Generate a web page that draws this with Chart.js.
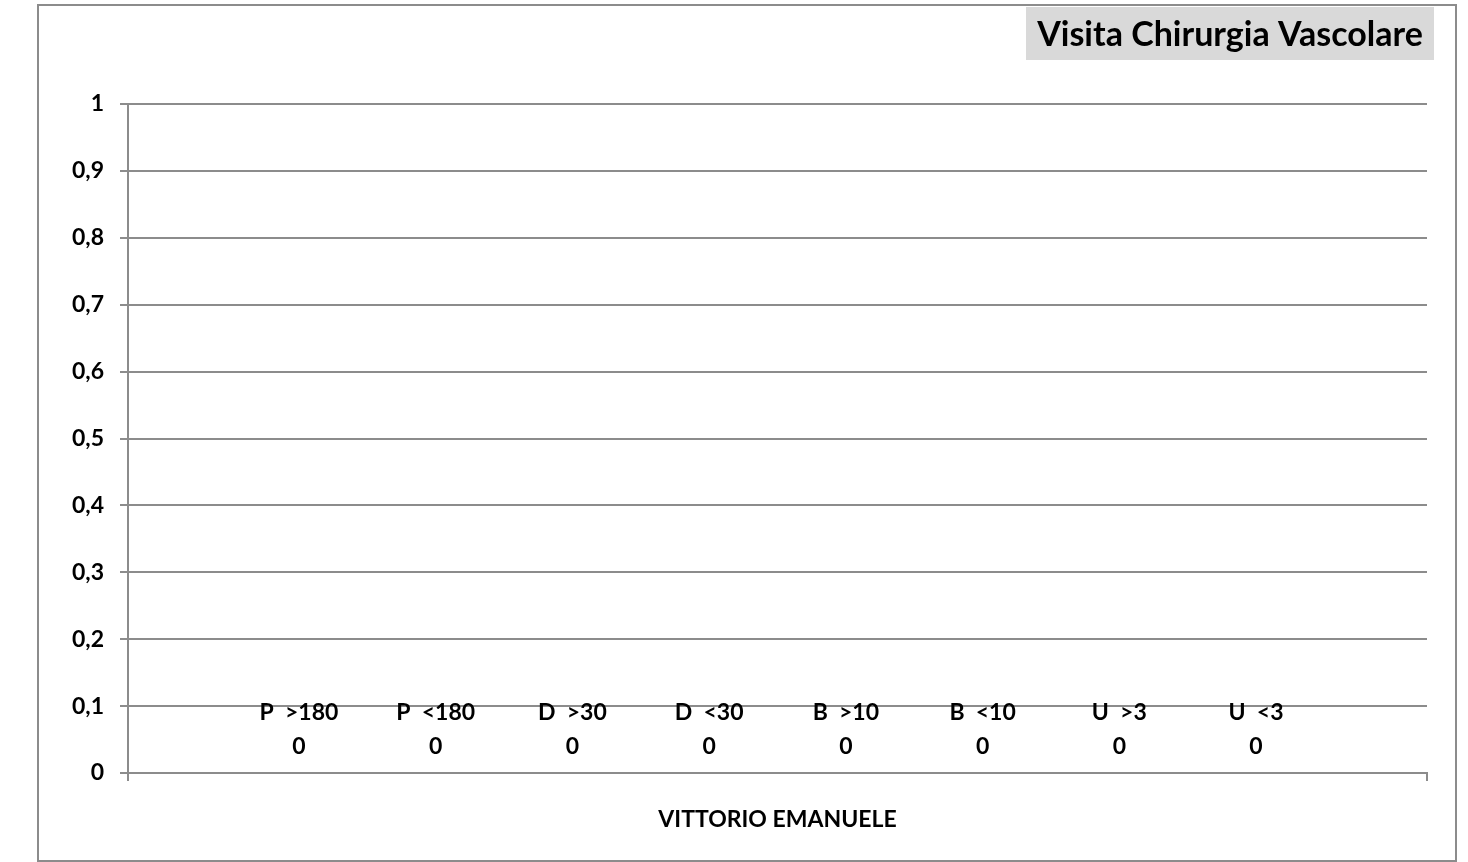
<!DOCTYPE html>
<html><head><meta charset="utf-8">
<script src="https://cdn.jsdelivr.net/npm/chart.js@4/dist/chart.umd.min.js"></script>
<style>html,body{margin:0;padding:0;background:#fff;}#wrap{width:1468px;height:862px;}</style>
</head><body><div id="wrap"><canvas id="c" width="1468" height="862"></canvas></div>
<script>
const chartTitle = 'Visita Chirurgia Vascolare';
const categories = ['VITTORIO EMANUELE'];
const seriesNames = ['P  >180','P  <180','D  >30','D  <30','B  >10','B  <10','U  >3','U  <3'];
const seriesValues = [[0],[0],[0],[0],[0],[0],[0],[0]];
const yMin = 0, yMax = 1, yStep = 0.1;

const FONT = 'Lato, "Open Sans", sans-serif';
const colors = ['#4f81bd','#c0504d','#9bbb59','#8064a2','#4bacc6','#f79646','#2c4d75','#772c2a'];

const decor = {
  id:'decor',
  afterDraw(chart){
    const ctx = chart.ctx;
    ctx.save();
    ctx.strokeStyle = '#8c8c8c'; ctx.lineWidth = 2;
    ctx.strokeRect(38, 5, 1418, 856);
    ctx.fillStyle = '#d9d9d9';
    ctx.fillRect(1026, 7, 408, 53);
    ctx.fillStyle = '#000';
    ctx.font = 'bold 34px ' + FONT;
    ctx.textAlign = 'center'; ctx.textBaseline = 'middle';
    ctx.fillText(chartTitle, 1230, 35);
    ctx.font = 'bold 23px ' + FONT;
    chart.data.datasets.forEach((ds, i) => {
      const meta = chart.getDatasetMeta(i);
      meta.data.forEach((el, j) => {
        ctx.fillText(ds.label, el.x, el.y - 60);
        ctx.fillText(String(ds.data[j]).replace('.', ','), el.x, el.y - 26);
      });
    });
    ctx.restore();
  }
};

new Chart(document.getElementById('c'), {
  type:'bar',
  data:{
    labels: categories,
    datasets: seriesNames.map((n,i)=>({label:n, data:seriesValues[i], backgroundColor:colors[i], borderWidth:0}))
  },
  options:{
    responsive:false, animation:false,
    layout:{padding:{left:38, right:41, top:104, bottom:0}},
    plugins:{legend:{display:false}, tooltip:{enabled:false}},
    datasets:{bar:{categoryPercentage:0.842, barPercentage:1}},
    scales:{
      x:{
        offset:true,
        grid:{display:true, drawOnChartArea:false, drawTicks:true, tickLength:8, offset:true, color:'#8c8c8c', lineWidth:2},
        border:{display:true, color:'#8c8c8c', width:2},
        ticks:{color:'#000', font:{family:FONT, size:23, weight:'bold'}, padding:25},
        afterFit(s){ s.height = 89; }
      },
      y:{
        min:yMin, max:yMax,
        grid:{color:'#8c8c8c', lineWidth:2, tickLength:8},
        border:{display:true, color:'#8c8c8c', width:2},
        ticks:{stepSize:yStep, color:'#000', padding:16, font:{family:FONT, size:23, weight:'bold'},
          callback:v=>String(Math.round(v*10)/10).replace('.',',')},
        afterFit(s){ s.width = 90; }
      }
    }
  },
  plugins:[decor]
});
</script></body></html>
